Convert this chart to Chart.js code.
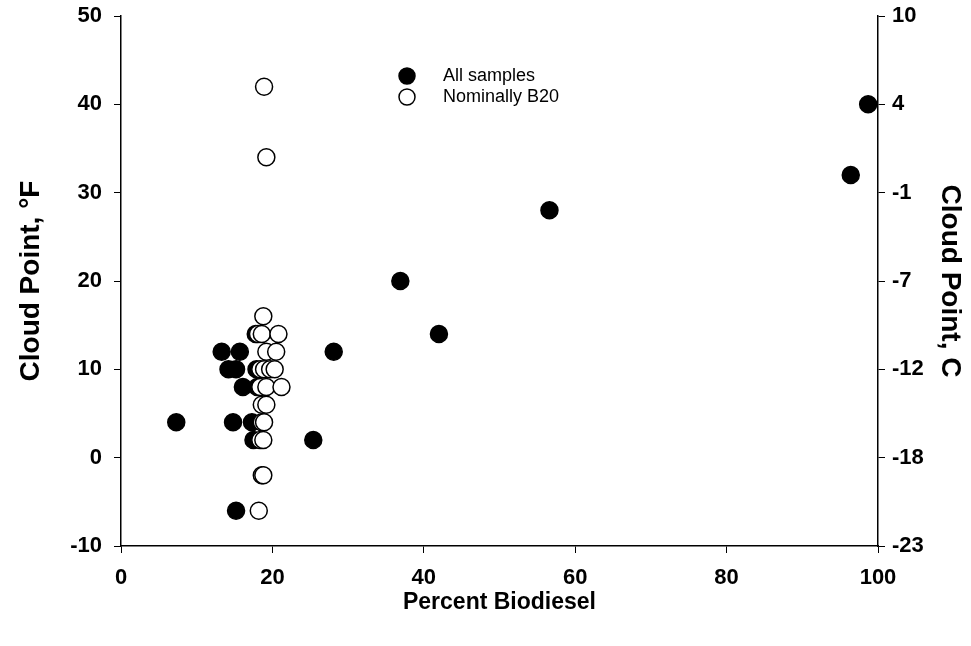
<!DOCTYPE html>
<html>
<head>
<meta charset="utf-8">
<script src="https://cdn.jsdelivr.net/npm/chart.js@4"></script>
<style>
  html, body { margin: 0; padding: 0; background: #fff; }
  #wrap { width: 971px; height: 646px; }
</style>
</head>
<body>
<div id="wrap"><canvas id="chart" width="971" height="646"></canvas></div>
<script>
// All samples (filled) - percent biodiesel vs cloud point (F)
const allX = [7.3, 13.3, 14.2, 15.2, 15.7, 14.8, 16.1, 17.3, 17.5, 15.2, 17.8, 17.9, 18.0, 25.4, 28.1, 36.9, 42.0, 56.6, 96.4, 98.7];
const allY = [4, 12, 10, 10, 12, 4, 8, 4, 2, -6, 14, 10, 8, 2, 12, 20, 14, 28, 32, 40];

// Nominally B20 (open)
const b20X = [18.9, 19.2, 18.8, 18.1, 18.6, 20.8, 19.2, 20.5, 18.4, 18.9, 19.7, 20.3, 18.4, 19.2, 21.2, 18.6, 19.2, 18.6, 18.9, 18.4, 18.8, 18.6, 18.8, 18.2];
const b20Y = [42, 34, 16, 14, 14, 14, 12, 12, 10, 10, 10, 10, 8, 8, 8, 6, 6, 4, 4, 2, 2, -2, -2, -6];

const seriesNames = ['All samples', 'Nominally B20'];
const xTicks = [0, 20, 40, 60, 80, 100];
const fTicks = [-10, 0, 10, 20, 30, 40, 50];

const toPts = (xs, ys) => xs.map((x, i) => ({ x: x, y: ys[i] }));
const toC = f => Math.round((f - 32) * 5 / 9);

const FONT = '"Liberation Sans", Arial, sans-serif';
const tickFont = { family: FONT, size: 22, weight: 'bold' };
const xTitleFont = { family: FONT, size: 23, weight: 'bold' };
const yTitleFont = { family: FONT, size: 28, weight: 'bold' };

// fixed box sizes so the plot area sits where the original one does
const fitY = w => s => { s.width = w; s.paddingTop = 0; s.paddingBottom = 0; };

// legend drawn inside the plot area
const legendPlugin = {
  id: 'insideLegend',
  afterDraw(chart) {
    const ctx = chart.ctx;
    const rows = [
      { y: 76, fill: '#000' },
      { y: 97, fill: '#fff' }
    ];
    ctx.save();
    ctx.font = '18px ' + FONT;
    ctx.textBaseline = 'middle';
    rows.forEach((r, i) => {
      ctx.beginPath();
      ctx.arc(407, r.y, 8, 0, Math.PI * 2);
      ctx.fillStyle = r.fill;
      ctx.fill();
      ctx.lineWidth = 1.5;
      ctx.strokeStyle = '#000';
      ctx.stroke();
      ctx.fillStyle = '#000';
      ctx.fillText(seriesNames[i], 443, r.y);
    });
    ctx.restore();
  }
};

new Chart(document.getElementById('chart'), {
  type: 'scatter',
  data: {
    datasets: [
      {
        label: seriesNames[0],
        data: toPts(allX, allY),
        backgroundColor: '#000',
        borderColor: '#000',
        borderWidth: 1.5,
        pointRadius: 8.5,
        pointHoverRadius: 8.5,
        order: 1
      },
      {
        label: seriesNames[1],
        data: toPts(b20X, b20Y),
        backgroundColor: '#fff',
        borderColor: '#000',
        borderWidth: 1.5,
        pointRadius: 8.5,
        pointHoverRadius: 8.5,
        order: 0
      }
    ]
  },
  options: {
    responsive: false,
    animation: false,
    layout: { padding: { top: 16, left: 0, right: 0, bottom: 0 } },
    plugins: { legend: { display: false }, tooltip: { enabled: false } },
    scales: {
      x: {
        type: 'linear',
        min: 0, max: 100,
        afterBuildTicks: s => { s.ticks = xTicks.map(v => ({ value: v })); },
        afterFit: s => { s.height = 100; s.paddingLeft = 0; s.paddingRight = 0; },
        grid: { drawOnChartArea: false, drawTicks: true, tickLength: 7, color: '#000', lineWidth: 1 },
        border: { display: true, color: '#000', width: 1.5 },
        ticks: { color: '#000', font: tickFont, padding: 12, maxRotation: 0 },
        title: { display: true, text: 'Percent Biodiesel', color: '#000', font: xTitleFont, padding: { top: 0, bottom: 30 } }
      },
      y: {
        type: 'linear',
        position: 'left',
        min: -10, max: 50,
        afterBuildTicks: s => { s.ticks = fTicks.map(v => ({ value: v })); },
        afterFit: fitY(121),
        grid: { drawOnChartArea: false, drawTicks: true, tickLength: 7, color: '#000', lineWidth: 1 },
        border: { display: true, color: '#000', width: 1.5 },
        ticks: { color: '#000', font: tickFont, padding: 12 },
        title: { display: true, text: 'Cloud Point, °F', color: '#000', font: yTitleFont, padding: { top: 14, bottom: 0 } }
      },
      y2: {
        type: 'linear',
        position: 'right',
        min: -10, max: 50,
        afterBuildTicks: s => { s.ticks = fTicks.map(v => ({ value: v })); },
        afterFit: fitY(93),
        grid: { drawOnChartArea: false, drawTicks: true, tickLength: 7, color: '#000', lineWidth: 1 },
        border: { display: true, color: '#000', width: 1.5 },
        ticks: { color: '#000', font: tickFont, padding: 7, callback: v => toC(v) },
        title: { display: true, text: 'Cloud Point, C', color: '#000', font: yTitleFont, padding: { top: 4, bottom: 0 } }
      }
    }
  },
  plugins: [legendPlugin]
});
</script>
</body>
</html>
